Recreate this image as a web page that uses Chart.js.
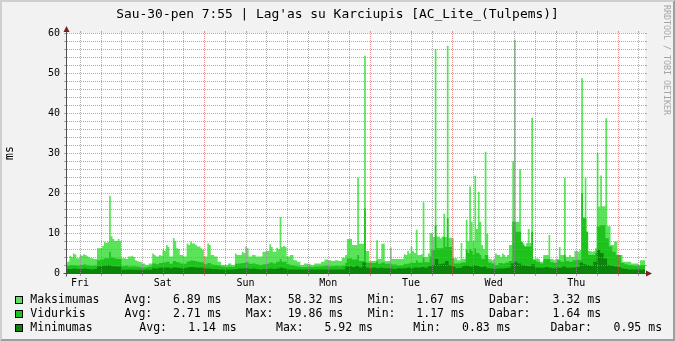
<!DOCTYPE html>
<html>
<head>
<meta charset="utf-8">
<script src="https://cdn.jsdelivr.net/npm/chart.js@4"></script>
<style>
  html, body { margin: 0; padding: 0; }
  body { width: 675px; height: 341px; background: #f2f2f2; position: relative; overflow: hidden; font-family: "DejaVu Sans Mono", monospace; color: #000; }
  canvas { position: absolute; left: 0; top: 0; }
  #frame { position: absolute; left: 0; top: 0; width: 675px; height: 341px; box-sizing: border-box;
           border-top: 2px solid #cfcfcf; border-left: 2px solid #cfcfcf;
           border-right: 2px solid #9e9e9e; border-bottom: 2px solid #9e9e9e; pointer-events: none; }
  #title { position: absolute; left: 0; top: 6px; width: 675px; text-align: center; font-size: 12.9px; line-height: 16px; white-space: pre; }
  #mark { position: absolute; left: 662px; top: 5px; writing-mode: vertical-rl; font-size: 8.3px; line-height: 9px; color: #a6a6a6; white-space: pre; }
  .row { position: absolute; left: 0; width: 675px; height: 14px; font-size: 11.5px; line-height: 14px; white-space: pre; }
  .row span { position: absolute; top: 0; }
  .row .box { position: absolute; left: 15px; top: 3.5px; width: 6px; height: 6px; border: 1px solid #000; }
</style>
</head>
<body>
<canvas id="myChart" width="675" height="341"></canvas>
<div id="title">Sau-30-pen 7:55 | Lag'as su Karciupis [AC_Lite_(Tulpems)]</div>
<div id="mark">RRDTOOL / TOBI OETIKER</div>
<div id="legend"></div>
<div id="frame"></div>
<script>
// time axis in hours from Fri 07:55
const dayLabels = ["Fri", "Sat", "Sun", "Mon", "Tue", "Wed", "Thu"];

// half-hour values
const maksimumas = [
  2.8, 2.8, 4.3, 4.0, 4.9, 4.6, 3.7, 3.7, 4.5, 4.3, 4.7, 4.5, 4.2, 4.0, 3.7, 3.7, 3.5, 3.5, 6.2, 6.2,
  6.2, 6.8, 7.8, 7.5, 7.8, 19.3, 9.2, 8.5, 8.0, 8.0, 8.5, 8.0, 3.7, 3.7, 3.7, 3.5, 4.1, 4.1, 4.3, 4.0,
  3.2, 3.0, 2.8, 2.8, 2.4, 2.4, 2.0, 2.0, 2.4, 2.4, 4.9, 4.5, 4.1, 4.1, 4.5, 4.3, 5.8, 5.5, 7.0, 6.5,
  4.1, 4.1, 8.7, 8.0, 6.2, 6.0, 4.5, 4.5, 4.1, 4.1, 7.4, 7.0, 7.8, 7.4, 7.4, 7.0, 6.6, 6.6, 6.2, 5.8,
  4.1, 4.1, 7.4, 7.0, 4.5, 4.5, 4.1, 4.1, 2.8, 2.8, 2.0, 2.0, 2.0, 2.0, 2.4, 2.4, 2.0, 2.0, 4.9, 4.5,
  4.5, 4.5, 5.3, 5.0, 6.6, 6.2, 4.1, 4.1, 4.5, 4.5, 4.1, 4.1, 4.1, 4.1, 5.3, 5.3, 5.5, 5.5, 7.2, 6.5,
  5.3, 5.3, 6.3, 6.0, 14.0, 6.5, 6.8, 6.5, 4.1, 4.1, 4.5, 4.5, 3.2, 3.2, 2.8, 2.8, 2.0, 2.0, 2.4, 2.4,
  2.3, 2.3, 2.0, 2.0, 2.4, 2.4, 2.4, 2.4, 2.8, 2.8, 3.4, 3.4, 3.2, 3.2, 3.0, 3.0, 3.2, 3.2, 3.0, 3.0,
  3.8, 3.8, 4.5, 8.5, 8.5, 8.5, 7.0, 7.0, 7.0, 23.8, 7.3, 7.3, 7.3, 54.3, 5.5, 5.5, 3.0, 3.0, 3.0, 3.0,
  8.2, 3.5, 3.5, 7.3, 7.3, 3.0, 3.0, 3.0, 6.4, 3.5, 3.5, 3.5, 3.5, 3.5, 3.5, 3.5, 4.7, 4.5, 5.5, 4.9,
  6.6, 5.5, 5.0, 10.8, 4.5, 4.5, 4.7, 17.7, 4.0, 4.0, 4.9, 10.0, 9.9, 9.0, 56.0, 9.1, 9.1, 8.7, 9.1, 14.8,
  9.0, 56.8, 8.8, 8.8, 8.7, 3.7, 3.7, 3.2, 3.2, 7.5, 3.5, 3.5, 13.3, 8.0, 21.6, 12.8, 8.0, 24.3, 11.0, 20.3,
  12.8, 7.0, 6.0, 30.3, 9.8, 3.5, 3.5, 3.2, 3.5, 4.9, 4.5, 4.5, 4.0, 4.9, 4.5, 4.0, 4.5, 7.0, 7.0, 28.0,
  58.3, 12.8, 12.8, 26.0, 7.8, 7.5, 6.6, 7.5, 11.0, 7.5, 38.8, 3.5, 3.5, 3.7, 3.5, 2.8, 2.8, 4.5, 4.5, 4.5,
  9.5, 3.5, 3.5, 3.2, 3.5, 3.5, 6.5, 4.5, 4.5, 23.8, 4.0, 4.0, 4.5, 4.0, 4.0, 5.5, 5.5, 5.3, 5.8, 48.7,
  14.0, 23.8, 10.3, 5.5, 5.5, 5.3, 5.5, 6.2, 30.0, 16.6, 24.4, 16.7, 16.7, 38.7, 11.7, 11.7, 7.0, 7.0, 7.9, 7.9,
  4.5, 4.5, 4.5, 2.8, 2.8, 2.8, 2.8, 2.8, 2.4, 2.4, 2.4, 2.4, 2.0, 3.2, 3.2, 3.2
];

// half-hour values
const vidurkis = [
  1.8, 1.8, 2.0, 2.0, 2.0, 2.0, 1.8, 1.8, 2.0, 2.0, 2.1, 2.1, 1.9, 1.9, 1.8, 1.8, 1.9, 1.9, 3.2, 3.2,
  3.4, 3.4, 3.7, 3.7, 3.7, 5.3, 3.9, 3.9, 3.6, 3.6, 3.5, 3.5, 1.7, 1.7, 1.8, 1.8, 1.6, 1.6, 1.7, 1.7,
  1.6, 1.6, 1.5, 1.5, 1.4, 1.4, 1.5, 1.5, 1.6, 1.6, 2.4, 2.4, 2.2, 2.2, 2.5, 2.5, 2.6, 2.6, 2.8, 2.8,
  2.3, 2.3, 3.0, 3.0, 2.7, 2.7, 2.4, 2.4, 2.3, 2.3, 2.9, 2.9, 3.1, 3.1, 3.0, 3.0, 2.8, 2.8, 2.7, 2.7,
  2.2, 2.2, 2.5, 2.5, 2.1, 2.1, 2.0, 2.0, 1.8, 1.8, 1.6, 1.6, 1.5, 1.5, 1.6, 1.6, 1.5, 1.5, 2.3, 2.3,
  2.4, 2.4, 2.5, 2.5, 2.7, 2.7, 2.3, 2.3, 2.4, 2.4, 2.2, 2.2, 2.0, 2.0, 2.2, 2.2, 2.3, 2.3, 2.6, 2.6,
  2.4, 2.4, 2.8, 2.8, 3.5, 2.8, 2.8, 2.8, 2.2, 2.2, 2.0, 2.0, 1.8, 1.8, 1.6, 1.6, 1.5, 1.5, 1.5, 1.5,
  1.6, 1.6, 1.5, 1.5, 1.6, 1.6, 1.6, 1.6, 1.7, 1.7, 1.8, 1.8, 1.7, 1.7, 1.7, 1.7, 1.8, 1.8, 1.7, 1.7,
  1.9, 1.9, 2.5, 3.6, 3.6, 3.6, 3.4, 3.4, 3.4, 4.5, 3.0, 3.0, 3.0, 16.2, 2.6, 2.6, 2.5, 2.5, 2.5, 2.5,
  3.0, 2.3, 2.3, 2.6, 2.6, 2.3, 2.3, 2.3, 2.4, 2.1, 2.1, 2.1, 1.9, 1.9, 1.9, 1.9, 2.3, 2.2, 2.4, 2.4,
  2.7, 2.5, 2.5, 3.2, 2.6, 2.6, 2.6, 3.8, 2.7, 2.7, 2.7, 4.1, 5.8, 5.8, 12.0, 6.2, 6.2, 6.2, 6.2, 9.0,
  6.5, 13.7, 6.5, 6.5, 3.7, 2.4, 2.4, 2.4, 2.4, 2.6, 2.6, 2.6, 5.8, 5.0, 6.0, 5.5, 4.5, 6.2, 5.0, 5.0,
  4.5, 3.5, 3.5, 4.5, 4.5, 2.6, 2.6, 2.4, 2.4, 2.0, 2.0, 2.5, 2.5, 2.4, 2.4, 2.6, 2.6, 3.0, 3.0, 12.8,
  12.8, 10.3, 10.3, 10.3, 7.8, 7.0, 6.6, 6.6, 6.6, 6.6, 10.3, 3.2, 3.2, 2.8, 2.8, 2.4, 2.4, 3.5, 3.5, 3.5,
  3.5, 2.7, 2.7, 2.5, 2.5, 3.2, 3.2, 2.8, 2.8, 4.5, 3.0, 3.0, 2.8, 2.8, 3.2, 3.2, 3.3, 3.3, 3.3, 19.9,
  13.7, 13.7, 10.3, 4.5, 4.5, 4.5, 4.5, 5.0, 11.6, 11.6, 12.0, 12.0, 12.0, 8.7, 8.7, 6.6, 6.6, 5.3, 5.3, 4.5,
  4.5, 4.5, 2.5, 2.5, 2.2, 2.2, 2.0, 2.0, 1.9, 1.9, 1.8, 1.8, 1.9, 1.9, 2.0, 2.0
];

// hourly values
const minimumas = [
  1.0, 1.0, 1.1, 1.0, 1.0, 1.1, 1.0, 0.9, 1.0, 1.6,
  1.8, 1.8, 2.0, 1.7, 1.6, 1.6, 0.8, 0.8, 0.9, 0.8,
  0.8, 0.8, 0.8, 0.9, 0.8, 1.2, 1.1, 1.3, 1.3, 1.4,
  1.2, 1.4, 1.3, 1.2, 1.2, 1.4, 1.5, 1.4, 1.3, 1.3,
  1.1, 1.1, 1.0, 1.0, 0.9, 0.9, 0.9, 0.9, 0.9, 1.0,
  1.1, 1.1, 1.2, 1.0, 1.1, 1.0, 0.9, 1.0, 1.0, 1.1,
  1.0, 1.1, 1.3, 1.1, 0.9, 0.9, 0.9, 0.9, 0.85, 0.85,
  0.85, 0.85, 0.85, 0.85, 0.9, 0.9, 0.9, 0.9, 0.9, 0.9,
  0.9, 1.6, 1.7, 1.5, 1.8, 1.4, 2.6, 1.3, 1.2, 1.4,
  1.2, 1.3, 1.2, 1.2, 1.1, 1.0, 1.2, 1.1, 1.2, 1.3,
  1.2, 1.4, 1.3, 1.5, 1.3, 1.7, 2.0, 3.5, 2.2, 2.4,
  3.0, 2.0, 1.6, 1.2, 1.3, 1.8, 1.9, 1.6, 2.0, 1.8,
  1.5, 1.6, 1.2, 1.1, 1.0, 1.1, 1.1, 1.2, 1.3, 2.4,
  2.8, 2.4, 2.0, 1.8, 1.7, 2.2, 1.4, 1.3, 1.3, 1.5,
  1.3, 1.2, 1.4, 1.3, 1.6, 1.3, 1.3, 1.4, 1.5, 2.6,
  2.2, 2.0, 1.8, 2.8, 5.9, 5.0, 3.6, 2.0, 1.8, 1.6,
  1.5, 1.1, 1.0, 0.9, 0.9, 0.85, 0.9, 0.9
];

const seriesNames = ["Maksimumas", "Vidurkis", "Minimumas"];
const seriesColors = ["#5ce35c", "#1dc21d", "#0c840c"];
const legendStats = [
  ["Avg:", "6.89 ms", "Max:", "58.32 ms", "Min:", "1.67 ms", "Dabar:", "3.32 ms"],
  ["Avg:", "2.71 ms", "Max:", "19.86 ms", "Min:", "1.17 ms", "Dabar:", "1.64 ms"],
  ["Avg:", "1.14 ms", "Max:", "5.92 ms", "Min:", "0.83 ms", "Dabar:", "0.95 ms"]
];

// layout of the legend text (x of each piece)
const legendCols = [
  [124.6, 173, 245.8, 287.7, 367.8, 416.3, 489, 552.6],
  [124.6, 173, 245.8, 287.7, 367.8, 416.3, 489, 552.6],
  [139.3, 188.2, 276, 324.5, 413.2, 462.1, 550.4, 613.6]
];

const hours = 168;
const firstNoon = 4 + 5 / 60;
const minorGrid = "rgba(143,143,143,0.75)";
const majorGrid = "rgba(222,79,79,0.6)";

// stepped areas need a closing point at the right edge
function toPoints(arr) {
  const step = hours / arr.length;
  const pts = arr.map((v, i) => ({ x: i * step, y: v }));
  pts.push({ x: hours, y: arr[arr.length - 1] });
  return pts;
}

const legend = document.getElementById("legend");
seriesNames.forEach((name, r) => {
  const row = document.createElement("div");
  row.className = "row";
  row.style.top = (292.3 + r * 14) + "px";
  const box = document.createElement("div");
  box.className = "box";
  box.style.background = seriesColors[r];
  row.appendChild(box);
  const label = document.createElement("span");
  label.style.left = "30.3px";
  label.textContent = name;
  row.appendChild(label);
  legendStats[r].forEach((t, c) => {
    const s = document.createElement("span");
    s.style.left = legendCols[r][c] + "px";
    s.textContent = t;
    row.appendChild(s);
  });
  legend.appendChild(row);
});

// rrdtool style: white canvas, dotted grid over the areas, axes with arrows
const rrdLook = {
  id: "rrdLook",
  beforeDraw(chart) {
    const { ctx, chartArea: a } = chart;
    ctx.save();
    ctx.fillStyle = "#ffffff";
    ctx.fillRect(a.left, a.top, a.right - a.left, a.bottom - a.top);
    ctx.restore();
  },
  afterDatasetsDraw(chart) {
    const { ctx, chartArea: a, scales } = chart;
    const L = Math.round(a.left), R = Math.round(a.right);
    const T = Math.round(a.top), B = Math.round(a.bottom);
    ctx.save();
    scales.y.ticks.forEach((t) => {
      const y = Math.round(scales.y.getPixelForValue(t.value));
      ctx.fillStyle = t.value % 10 === 0 ? majorGrid : minorGrid;
      for (let x = L + 1; x < R; x += 2) ctx.fillRect(x, y, 1, 1);
      ctx.fillRect(L - 2, y, 2, 1);
      ctx.fillRect(R, y, 2, 1);
    });
    scales.x.ticks.forEach((t, i) => {
      const x = Math.round(scales.x.getPixelForValue(t.value));
      ctx.fillStyle = i % 4 === 2 ? majorGrid : minorGrid;
      for (let y = T + 1; y < B; y += 2) ctx.fillRect(x, y, 1, 1);
      ctx.fillRect(x, T - 2, 1, 2);
      ctx.fillRect(x, B + 1, 1, 2);
    });
    ctx.restore();
  },
  afterDraw(chart) {
    const { ctx, chartArea: a } = chart;
    const ax = Math.round(a.left) + 0.5;
    const ay = Math.round(a.bottom) + 0.5;
    ctx.save();
    ctx.strokeStyle = "#505050";
    ctx.lineWidth = 1;
    ctx.beginPath();
    ctx.moveTo(ax, ay + 3);
    ctx.lineTo(ax, a.top - 5);
    ctx.moveTo(ax - 3, ay);
    ctx.lineTo(a.right + 2, ay);
    ctx.stroke();
    ctx.fillStyle = "#801f1f";
    ctx.beginPath();
    ctx.moveTo(ax - 3, a.top - 1);
    ctx.lineTo(ax + 3, a.top - 1);
    ctx.lineTo(ax, a.top - 7);
    ctx.closePath();
    ctx.fill();
    ctx.beginPath();
    ctx.moveTo(a.right + 1, ay - 3);
    ctx.lineTo(a.right + 1, ay + 3);
    ctx.lineTo(a.right + 7, ay);
    ctx.closePath();
    ctx.fill();
    ctx.restore();
  }
};

const ctx = document.getElementById("myChart");

const myChart = new Chart(ctx, {
  type: "line",
  data: {
    datasets: [
      { label: seriesNames[2], data: toPoints(minimumas), backgroundColor: seriesColors[2] },
      { label: seriesNames[1], data: toPoints(vidurkis), backgroundColor: seriesColors[1] },
      { label: seriesNames[0], data: toPoints(maksimumas), backgroundColor: seriesColors[0] }
    ].map((d) => ({
      ...d,
      fill: "origin",
      stepped: "before",
      borderWidth: 0,
      borderColor: "rgba(0,0,0,0)",
      pointRadius: 0,
      tension: 0
    }))
  },
  options: {
    responsive: false,
    animation: false,
    devicePixelRatio: 1,
    layout: {
      padding: { left: 0, top: 33, right: 30, bottom: 0 }
    },
    plugins: {
      legend: { display: false },
      title: { display: false },
      tooltip: { enabled: false }
    },
    scales: {
      x: {
        type: "linear",
        min: 0,
        max: hours,
        afterBuildTicks: (scale) => {
          const t = [];
          for (let v = firstNoon; v < hours; v += 6) t.push({ value: v });
          scale.ticks = t;
        },
        afterFit: (scale) => {
          scale.height = 68;
        },
        border: { display: false },
        grid: { display: false, drawTicks: true, tickLength: 3 },
        ticks: {
          autoSkip: false,
          maxRotation: 0,
          padding: 1,
          color: "#000",
          font: { family: "DejaVu Sans Mono", size: 10 },
          callback: function (val, index) {
            // day name at noon only
            return index % 4 === 0 ? dayLabels[index / 4] : "";
          }
        }
      },
      y: {
        min: 0,
        max: 60,
        afterFit: (scale) => {
          scale.width = 66;
        },
        border: { display: false },
        grid: { display: false, drawTicks: true, tickLength: 3 },
        ticks: {
          stepSize: 2,
          autoSkip: false,
          padding: 3,
          color: "#000",
          font: { family: "DejaVu Sans Mono", size: 10 },
          callback: (val) => (val % 10 === 0 ? String(val) : "")
        },
        title: {
          display: true,
          text: "ms",
          color: "#000",
          padding: { top: 3, bottom: 0 },
          font: { family: "DejaVu Sans Mono", size: 11.5 }
        }
      }
    }
  },
  plugins: [rrdLook]
});
</script>
</body>
</html>
